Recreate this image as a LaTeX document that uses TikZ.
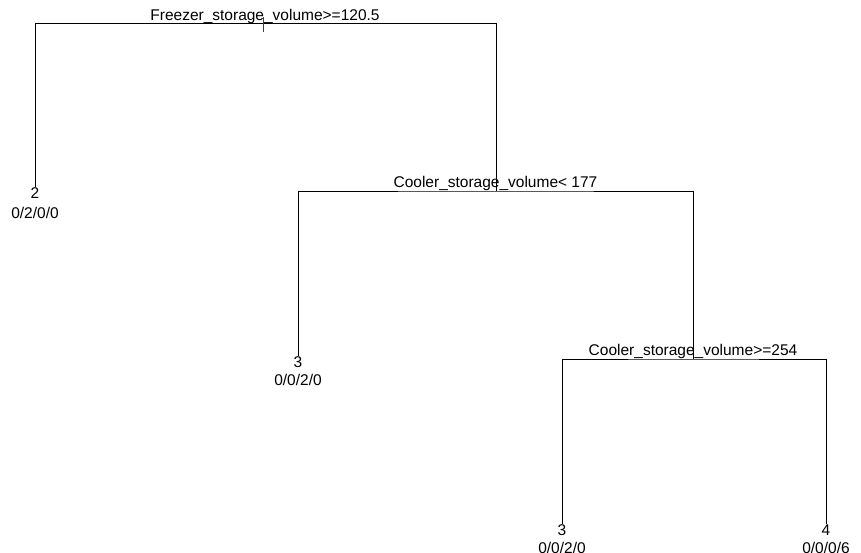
\documentclass[tikz,border=0pt]{standalone}
\usepackage{fontspec}
\setmainfont{Liberation Sans}
\definecolor{strichlila}{RGB}{100,30,140}
\tikzset{
    kante/.style={line width=1pt},
    beschriftung/.style={inner sep=0pt, anchor=base, font=\fontsize{15.5}{18}\selectfont},
}
\begin{document}
\begin{tikzpicture}[x=1pt,y=-1pt]
        \useasboundingbox (0,0) rectangle (861,552);
        \clip (0,0) rectangle (861,552);

        % Verzweigungen
        \coordinate (k1) at (263.5,23.5);
        \coordinate (k2) at (496,191);
        \coordinate (k4) at (693,359);
        \node [beschriftung] (s1) at (265,20) {Freezer\_storage\_volume>=120.5};
        \node [beschriftung] (s2) at (495.5,187) {Cooler\_storage\_volume< 177};
        \node [beschriftung] (s4) at (693,355.5) {Cooler\_storage\_volume>=254};

        % Blaetter
        \foreach \name/\x/\y/\yy/\klasse/\zahlen in {b2/35/198/218/2/{0/2/0/0}, b3/298/367/385/3/{0/0/2/0}, b6/562/535/553/3/{0/0/2/0}, b7/826/535/553/4/{0/0/0/6}}
        {
            \node [beschriftung] (\name) at (\x,\y) {\klasse};
            \node [beschriftung] (\name z) at (\x,\yy) {\zahlen};
        }

        % Kanten
        \draw [kante] (b2.north) |- (k1) -| (k2);
        \draw [kante] (b3.north) |- (k2) -| (k4);
        \draw [kante] (b6.north) |- (k4) -| (b7.north);

        %Strich
        \draw [kante, strichlila] (k1) ++(0,-6.5) -- ++(0,15);
\end{tikzpicture}
\end{document}
